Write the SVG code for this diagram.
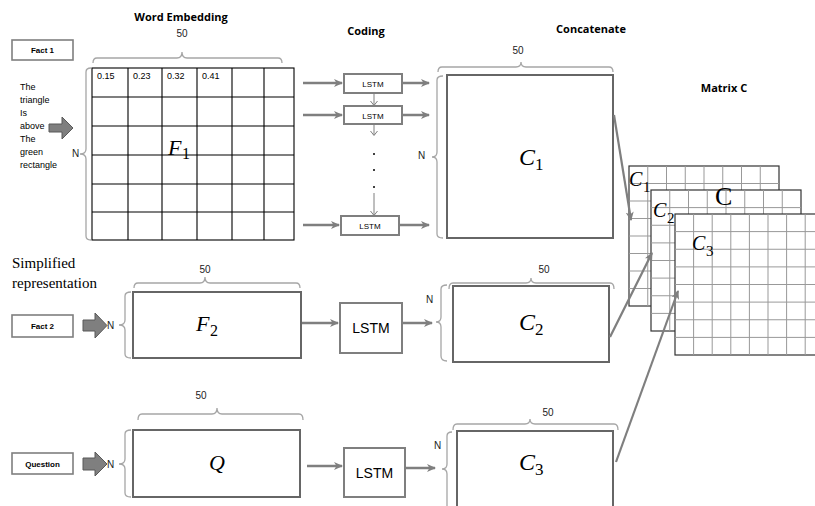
<svg xmlns="http://www.w3.org/2000/svg" width="815" height="506" viewBox="0 0 815 506">
<style>
.t{font-family:"Liberation Sans",Arial,sans-serif;fill:#000}
.title{font-family:"Open Sans","Liberation Sans",sans-serif;font-weight:bold;font-size:11px}
.sm{font-family:"Liberation Sans",Arial,sans-serif;font-size:9px}
.nl{font-family:"Liberation Sans",Arial,sans-serif;font-size:10px;fill:#222}
.num{font-family:"Liberation Sans",Arial,sans-serif;font-size:10px;text-anchor:middle;fill:#222}
.lbl{fill:#fff;stroke:#7f7f7f;stroke-width:1.6}
.lbt{font-family:"Liberation Sans",Arial,sans-serif;font-weight:bold;font-size:8px;text-anchor:middle}
.blk{fill:#7f7f7f;stroke:#595959;stroke-width:1}
.brace{fill:none;stroke:#a6a6a6;stroke-width:1.3}
.mat{fill:#fff;stroke:#666;stroke-width:2}
.grid{stroke:#000;stroke-width:1.1;fill:none}
.lstm{fill:#fff;stroke:#7f7f7f;stroke-width:2}
.arr{stroke:#7f7f7f;stroke-width:2.5;fill:none;marker-end:url(#ah)}
.thin{stroke:#7f7f7f;stroke-width:1;fill:none}
.diag{stroke:#7f7f7f;stroke-width:2.2;fill:none;marker-end:url(#ah)}
.math{font-family:"Liberation Serif","Times New Roman",serif;font-style:italic}
.sub{font-family:"Liberation Serif","Times New Roman",serif;font-style:normal}
.cg{fill:#fff;stroke:#333;stroke-width:1.2}
.cl{stroke:#999;stroke-width:1;fill:none}
</style>
<defs>
<marker id="ah" markerWidth="10" markerHeight="10" refX="8" refY="4" orient="auto" markerUnits="userSpaceOnUse">
<path d="M0,0 L9,4 L0,8 L2.5,4 z" fill="#7f7f7f"/>
</marker>
</defs>
<rect width="815" height="506" fill="#fff"/>

<g id="titles">
<text class="title" x="181" y="21" text-anchor="middle">Word Embedding</text>
<text class="title" x="366" y="35" text-anchor="middle">Coding</text>
<text class="title" x="591" y="33" text-anchor="middle">Concatenate</text>
<text class="title" x="724" y="92" text-anchor="middle">Matrix C</text>
<text x="12" y="268" font-family="'Liberation Serif','Times New Roman',serif" font-size="15">Simplified</text>
<text x="12" y="288" font-family="'Liberation Serif','Times New Roman',serif" font-size="15">representation</text>
</g>

<g id="fact1">
<rect class="lbl" x="12" y="40" width="61" height="20"/>
<text class="lbt" x="42.5" y="53">Fact 1</text>
<g class="sm">
<text x="20" y="90">The</text>
<text x="20" y="103">triangle</text>
<text x="20" y="116">Is</text>
<text x="20" y="129">above</text>
<text x="20" y="142">The</text>
<text x="20" y="155">green</text>
<text x="20" y="168">rectangle</text>
</g>
<path class="blk" d="M49,124 H62 V117 L73,128 L62,139 V132 H49 z"/>
</g>
<g id="fact2">
<rect class="lbl" x="12" y="315" width="61" height="22"/>
<text class="lbt" x="42.5" y="329">Fact 2</text>
<path class="blk" d="M83,320 H95 V313 L107,325.5 L95,338 V331 H83 z"/>
</g>
<g id="question">
<rect class="lbl" x="12" y="453" width="61" height="21"/>
<text class="lbt" x="42.5" y="466.5">Question</text>
<path class="blk" d="M83,458 H95 V452 L107,464 L95,476 V470 H83 z"/>
</g>

<g id="F1">
<text class="num" x="182" y="37">50</text>
<path class="brace" d="M93,63 Q93,58 97,58 H177 Q182,58 182,52 Q182,58 187,58 H278 Q282,58 282,63"/>
<text class="nl" x="72" y="157">N</text>
<path class="brace" d="M91,68 Q86,68 86,72 V149 Q86,154 80,154 Q86,154 86,159 V236 Q86,240 91,240"/>
<rect class="grid" x="92" y="68" width="202" height="172"/>
<path class="grid" d="M128,68V240M162,68V240M197,68V240M232,68V240M264,68V240M92,97H294M92,126H294M92,155H294M92,184H294M92,212H294"/>
<g class="sm">
<text x="97" y="79">0.15</text>
<text x="133" y="79">0.23</text>
<text x="167" y="79">0.32</text>
<text x="202" y="79">0.41</text>
</g>
<text class="math" x="168" y="155" font-size="22">F</text>
<text class="sub" x="182" y="159" font-size="16">1</text>
</g>

<g id="F2">
<text class="num" x="205" y="273">50</text>
<path class="brace" d="M134,288 Q134,283 138,283 H200 Q205,283 205,277 Q205,283 210,283 H296 Q300,283 300,288"/>
<text class="nl" x="107" y="329">N</text>
<path class="brace" d="M131,292 Q125,292 125,296 V320 Q125,325 119,325 Q125,325 125,330 V354 Q125,358 131,358"/>
<rect class="mat" x="133" y="292" width="168" height="66"/>
<text class="math" x="196" y="331" font-size="22">F</text>
<text class="sub" x="210" y="336" font-size="16">2</text>
</g>

<g id="Q">
<text class="num" x="201" y="399">50</text>
<path class="brace" d="M138,420 Q138,414 142,414 H212 Q217,414 217,408 Q217,414 222,414 H299 Q303,414 303,420"/>
<text class="nl" x="107" y="468">N</text>
<path class="brace" d="M131,430 Q125,430 125,434 V459 Q125,464 119,464 Q125,464 125,469 V493 Q125,497 131,497"/>
<rect class="mat" x="133" y="430" width="167" height="67"/>
<text class="math" x="209" y="470" font-size="22">Q</text>
</g>

<g id="lstm1a">
<rect class="lstm" x="344" y="74" width="58" height="19"/>
<text class="t" x="373" y="87" font-size="8" text-anchor="middle">LSTM</text>
</g>
<g id="lstm1b">
<rect class="lstm" x="344" y="106" width="58" height="18"/>
<text class="t" x="373" y="118.5" font-size="8" text-anchor="middle">LSTM</text>
</g>
<g id="lstm1n">
<rect class="lstm" x="341" y="216" width="58" height="19"/>
<text class="t" x="370" y="229" font-size="8" text-anchor="middle">LSTM</text>
</g>
<g id="dots">
<circle cx="374" cy="154" r="1" fill="#000"/>
<circle cx="374" cy="170" r="1" fill="#000"/>
<circle cx="374" cy="187" r="1" fill="#000"/>
</g>
<g id="lstm2">
<rect class="lstm" x="340" y="303" width="62" height="50"/>
<text class="t" x="371" y="333" font-size="14" text-anchor="middle">LSTM</text>
</g>
<g id="lstm3">
<rect class="lstm" x="344" y="448" width="61" height="49"/>
<text class="t" x="374.5" y="478" font-size="14" text-anchor="middle">LSTM</text>
</g>

<g id="C1">
<text class="num" x="518" y="54">50</text>
<path class="brace" d="M438,72 Q438,67 442,67 H516 Q521,67 521,62 Q521,67 526,67 H609 Q613,67 613,72"/>
<text class="nl" x="418" y="159">N</text>
<path class="brace" d="M443,76 Q437,76 437,80 V152 Q437,157 432,157 Q437,157 437,162 V234 Q437,238 443,238"/>
<rect class="mat" x="447" y="75" width="166" height="163"/>
<text class="math" x="519" y="165" font-size="24">C</text>
<text class="sub" x="535" y="170" font-size="17">1</text>
</g>
<g id="C2">
<text class="num" x="544" y="273">50</text>
<path class="brace" d="M449,289 Q449,283 453,283 H526 Q531,283 531,278 Q531,283 536,283 H610 Q614,283 614,289"/>
<text class="nl" x="426" y="303">N</text>
<path class="brace" d="M447,285 Q441,285 441,289 V317 Q441,322 436,322 Q441,322 441,327 V356 Q441,361 447,361"/>
<rect class="mat" x="453" y="286" width="156" height="76"/>
<text class="math" x="519" y="330" font-size="24">C</text>
<text class="sub" x="535" y="335" font-size="17">2</text>
</g>
<g id="C3">
<text class="num" x="548" y="416">50</text>
<path class="brace" d="M453,430 Q453,424 457,424 H525 Q530,424 530,419 Q530,424 535,424 H614 Q618,424 618,430"/>
<text class="nl" x="434" y="449">N</text>
<path class="brace" d="M452,432 Q447,432 447,436 V464 Q447,469 442,469 Q447,469 447,474 V510"/>
<rect class="mat" x="457" y="431" width="156" height="80"/>
<text class="math" x="519" y="470" font-size="24">C</text>
<text class="sub" x="535" y="475" font-size="17">3</text>
</g>

<g id="matrixC">
<rect class="cg" x="629" y="166" width="150" height="140"/>
<path class="cl" d="M647.75,166V306M666.5,166V306M685.25,166V306M704,166V306M722.75,166V306M741.5,166V306M760.25,166V306M629,183.5H779M629,201H779M629,218.5H779M629,236H779M629,253.5H779M629,271H779M629,288.5H779"/>
<rect class="cg" x="651" y="190" width="150" height="141"/>
<path class="cl" d="M669.75,190V331M688.5,190V331M707.25,190V331M726,190V331M744.75,190V331M763.5,190V331M782.25,190V331M651,207.6H801M651,225.25H801M651,242.9H801M651,260.5H801M651,278.1H801M651,295.75H801M651,313.4H801"/>
<rect class="cg" x="675" y="214" width="160" height="141"/>
<path class="cl" d="M693.6,214V355M712.2,214V355M730.8,214V355M749.4,214V355M768,214V355M786.6,214V355M805.2,214V355M675,231.6H815M675,249.25H815M675,266.9H815M675,284.5H815M675,302.1H815M675,319.75H815M675,337.4H815"/>
<text class="math" x="629" y="186" font-size="20">C</text>
<text class="sub" x="643" y="192" font-size="15">1</text>
<text x="715" y="205" font-family="'Liberation Serif','Times New Roman',serif" font-size="26">C</text>
<text class="math" x="653" y="217" font-size="20">C</text>
<text class="sub" x="667" y="223" font-size="15">2</text>
<text class="math" x="692" y="250" font-size="20">C</text>
<text class="sub" x="706" y="256" font-size="15">3</text>
</g>

<g id="connectors">
<path class="arr" d="M303,83H342"/>
<path class="arr" d="M303,115H342"/>
<path class="arr" d="M303,225H339"/>
<path class="arr" d="M403,83H429"/>
<path class="arr" d="M403,115H429"/>
<path class="arr" d="M400,225H429"/>
<path class="thin" d="M374,93V105M374,124V135M374,193V215"/>
<path class="thin" d="M370.5,101 L374,105.5 L377.5,101 M370.5,131 L374,135.5 L377.5,131 M370.5,211 L374,215.5 L377.5,211"/>
<path class="arr" d="M302,323H338"/>
<path class="arr" d="M403,323H432"/>
<path class="arr" d="M307,466H342"/>
<path class="arr" d="M406,468H435"/>
<path class="diag" d="M614,115L631,220"/>
<path class="diag" d="M610,337L652,253"/>
<path class="diag" d="M616,462L678,291"/>
</g>
</svg>
